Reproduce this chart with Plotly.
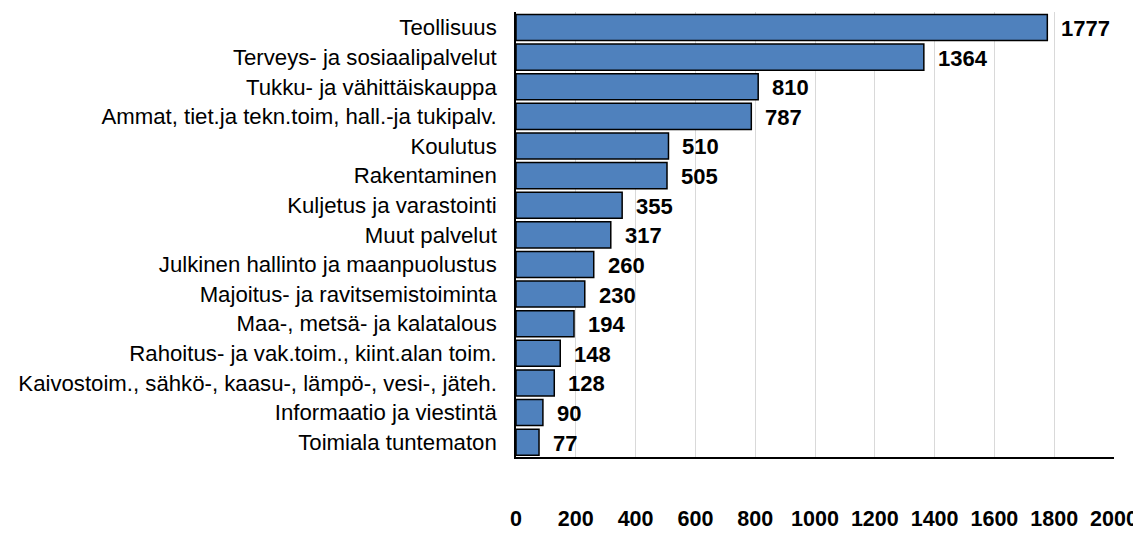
import plotly.graph_objects as go

categories = [
    "Teollisuus",
    "Terveys- ja sosiaalipalvelut",
    "Tukku- ja vähittäiskauppa",
    "Ammat, tiet.ja tekn.toim, hall.-ja tukipalv.",
    "Koulutus",
    "Rakentaminen",
    "Kuljetus ja varastointi",
    "Muut palvelut",
    "Julkinen hallinto ja maanpuolustus",
    "Majoitus- ja ravitsemistoiminta",
    "Maa-, metsä- ja kalatalous",
    "Rahoitus- ja vak.toim., kiint.alan toim.",
    "Kaivostoim., sähkö-, kaasu-, lämpö-, vesi-, jäteh.",
    "Informaatio ja viestintä",
    "Toimiala tuntematon",
]
values = [1777, 1364, 810, 787, 510, 505, 355, 317, 260, 230, 194, 148, 128, 90, 77]
tick_vals = list(range(0, 2001, 200))

fig = go.Figure()
fig.add_trace(go.Bar(
    y=categories,
    x=values,
    orientation="h",
    marker=dict(color="#4F81BD", line=dict(color="#000000", width=1.5)),
    hoverinfo="x+y",
))

for c, v in zip(categories, values):
    fig.add_annotation(
        x=v, y=c, text=f"<b>{v}</b>", showarrow=False,
        xanchor="left", xshift=12, yshift=-1,
        font=dict(family="Liberation Sans, Arial", size=22, color="#000000"),
    )

# page body has an 8px default margin; size the figure so it fits the window
fig.update_layout(
    width=1133, height=544,
    margin=dict(l=508, r=27, t=4, b=95),
    paper_bgcolor="white", plot_bgcolor="white",
    bargap=0.12,
    showlegend=False,
    font=dict(family="Liberation Sans, Arial", color="#000000"),
)
fig.update_xaxes(
    range=[0, 2000], tickvals=tick_vals,
    ticktext=[f"<b>{t}</b>" for t in tick_vals],
    tickfont=dict(size=21.5, color="#000000"),
    showgrid=True, gridcolor="#D9D9D9", gridwidth=1,
    showline=True, linecolor="#000000", linewidth=1.5,
    zeroline=False, ticks="", ticklabelstandoff=41, automargin=False,
)
fig.update_yaxes(
    autorange="reversed",
    tickfont=dict(size=22.2, color="#000000"),
    showline=True, linecolor="#000000", linewidth=1.5,
    showgrid=False, ticks="", ticklabelstandoff=13, automargin=False,
)

fig.write_html("out.html")
